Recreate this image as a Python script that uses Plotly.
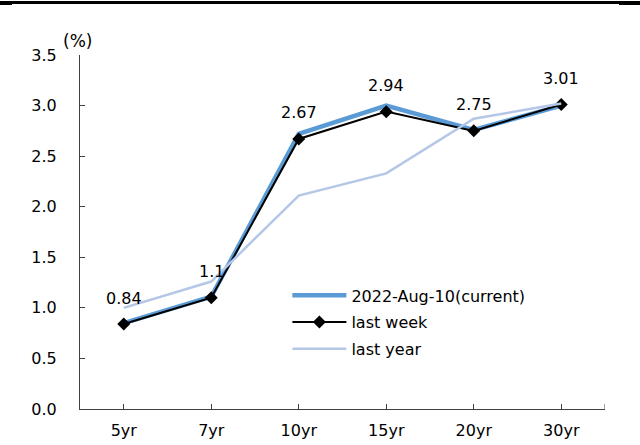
import plotly.graph_objects as go

tenors = ["5yr", "7yr", "10yr", "15yr", "20yr", "30yr"]
current = [0.85, 1.11, 2.72, 3.00, 2.76, 3.00]
last_week = [0.84, 1.10, 2.67, 2.94, 2.75, 3.01]
last_year = [1.00, 1.26, 2.11, 2.33, 2.87, 3.02]
label_text = ["0.84", "1.1", "2.67", "2.94", "2.75", "3.01"]

FONT = "DejaVu Sans"
FS = 16
W, H = 640, 445
ML, MR, MT, MB = 80, 35, 55, 36
PW, PH = W - ML - MR, H - MT - MB

fig = go.Figure()
fig.add_trace(go.Scatter(x=tenors, y=current, mode="lines", name="2022-Aug-10(current)",
                         line=dict(color="#5B9BD5", width=4.5), legendgroup="a"))
fig.add_trace(go.Scatter(x=tenors, y=last_week, mode="lines+markers", name="last week",
                         line=dict(color="#000000", width=2),
                         marker=dict(symbol="diamond", size=10, color="#000000"), legendgroup="b"))
fig.add_trace(go.Scatter(x=tenors, y=last_year, mode="lines", name="last year",
                         line=dict(color="#B4C7E7", width=2.5), legendgroup="c"))

for t, v, s in zip(tenors, last_week, label_text):
    fig.add_annotation(x=t, y=v, text=s, showarrow=False, yshift=26,
                       font=dict(family=FONT, size=FS, color="#000000"))

fig.add_annotation(x=-3 / PW, y=1 + 14 / PH, xref="paper", yref="paper", text="(%)",
                   showarrow=False, xanchor="center", yanchor="middle",
                   font=dict(family=FONT, size=17, color="#000000"))

# top rule
fig.add_shape(type="line", xref="paper", yref="paper", x0=-ML / PW, x1=(W - ML) / PW,
              y0=1 + (MT - 2.5) / PH, y1=1 + (MT - 2.5) / PH, line=dict(color="#000000", width=3))
fig.add_shape(type="line", xref="paper", yref="paper", x0=(619 - ML) / PW, x1=(W - ML) / PW,
              y0=1 + (MT - 3) / PH, y1=1 + (MT - 3) / PH, line=dict(color="#000000", width=4))
fig.add_shape(type="line", xref="paper", yref="paper", x0=-ML / PW, x1=(12 - ML) / PW,
              y0=1 + (MT - 3) / PH, y1=1 + (MT - 3) / PH, line=dict(color="#000000", width=4))
# end tick on x axis
fig.add_shape(type="line", xref="x", yref="paper", x0=5.5, x1=5.5, y0=0, y1=5 / PH,
              line=dict(color="#404040", width=1))

fig.update_layout(
    width=W, height=H,
    margin=dict(l=ML, r=MR, t=MT, b=MB, autoexpand=False),
    paper_bgcolor="white", plot_bgcolor="white",
    font=dict(family=FONT, size=FS, color="#000000"),
    showlegend=True,
    legend=dict(x=0.395, y=0.369, xanchor="left", yanchor="top",
                bgcolor="rgba(0,0,0,0)", font=dict(family=FONT, size=16),
                traceorder="grouped", tracegroupgap=3, itemwidth=54),
    xaxis=dict(type="category", range=[-0.5, 5.5], showgrid=False, zeroline=False,
               automargin=False,
               showline=True, linecolor="#404040", linewidth=1,
               ticks="inside", ticklen=5, tickcolor="#404040",
               ticklabelstandoff=7, tickfont=dict(family=FONT, size=FS)),
    yaxis=dict(range=[0, 3.5], dtick=0.5, tickformat=".1f", showgrid=False, zeroline=False,
               automargin=False,
               showline=True, linecolor="#404040", linewidth=1,
               ticks="inside", ticklen=5, tickcolor="#404040",
               ticklabelstandoff=19, tickfont=dict(family=FONT, size=FS)),
)

fig.write_html("out.html", config={"displayModeBar": False},
               post_script="document.body.style.margin='0';document.body.style.overflow='hidden';")
